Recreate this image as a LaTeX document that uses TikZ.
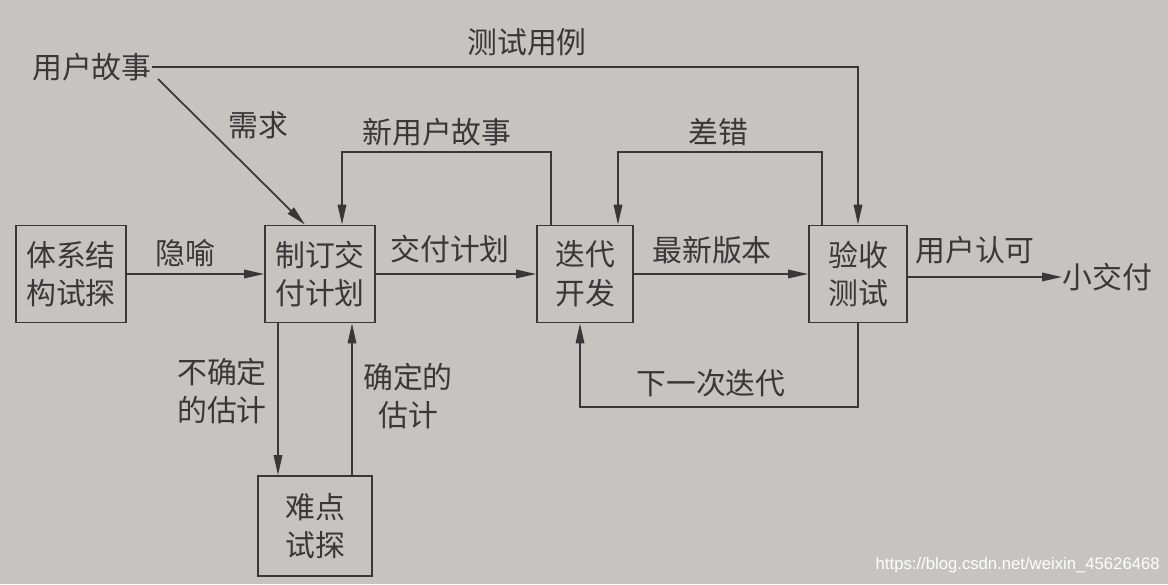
\documentclass[tikz,border=0pt]{standalone}
\usepackage{fontspec}
\setmainfont{Noto Sans CJK SC}
\newfontfamily\wmfont{Liberation Sans}
\usetikzlibrary{arrows.meta,calc}
\definecolor{paper}{HTML}{C6C4C1}
\definecolor{ink}{HTML}{383838}
\begin{document}
\begin{tikzpicture}[x=0.02cm,y=-0.02cm,
  every node/.style={text=ink,font=\fontsize{17pt}{22pt}\selectfont},
  box/.style={draw=ink,line width=1pt,align=center,inner sep=0pt},
  lbl/.style={align=center,inner sep=0pt},
  arr/.style={draw=ink,line width=1pt,-{Triangle[length=4mm,width=1.7mm]}},
  ln/.style={draw=ink,line width=1pt}]
\fill[paper] (0,0) rectangle (1168,584);
\useasboundingbox (0,0) rectangle (1168,584);
% boxes
\node[box,minimum width=2.2cm,minimum height=1.94cm] (a) at (71,274) {体系结\\构试探};
\node[box,minimum width=2.2cm,minimum height=1.94cm] (b) at (320,274) {制订交\\付计划};
\node[box,minimum width=1.92cm,minimum height=1.94cm] (c) at (585,274) {迭代\\开发};
\node[box,minimum width=1.96cm,minimum height=1.94cm] (d) at (858,274) {验收\\测试};
\node[box,minimum width=2.28cm,minimum height=2.0cm] (e) at (315,526) {难点\\试探};
\node[lbl,anchor=east] (us) at (152,67) {用户故事};
\node[lbl,anchor=west] (out) at (1062,277) {小交付};
% connectors
\draw[arr] (us.east) -| (d.north);
\coordinate (rq) at ($(us.east)+(6,12)$);
\draw[arr] (rq) -- ($(b.north)+(-15,0)$);
\draw[arr] ($(c.north)+(-34,0)$) -- ++(0,-73) -| ($(b.north)+(22,0)$);
\draw[arr] ($(d.north)+(-36,0)$) -- ++(0,-73) -| ($(c.north)+(33,0)$);
\draw[arr] (a.east) -- (b.west);
\draw[arr] (b.east) -- (c.west);
\draw[arr] (c.east) -- (d.west);
\draw[arr] (d.east |- out.west) -- (out.west);
\draw[arr] (d.south) -- ++(0,84) -| ($(c.south)+(-5,0)$);
\coordinate (p1) at ($(b.south)+(-42,0)$);
\coordinate (p2) at ($(b.south)+(32,0)$);
\draw[arr] (p1) -- (p1 |- e.north);
\draw[arr] (p2 |- e.north) -- (p2);
% labels
\node[lbl] (l1) at (527,42) {测试用例};
\node[lbl] (l2) at (258,125) {需求};
\node[lbl] (l3) at (437,132) {新用户故事};
\node[lbl] (l4) at (718,132) {差错};
\node[lbl] (l5) at (185,253) {隐喻};
\node[lbl] (l6) at (450,249) {交付计划};
\node[lbl] (l7) at (712,250) {最新版本};
\node[lbl] (l8) at (975,250) {用户认可};
\node[lbl] (l9) at (711,383) {下一次迭代};
\node[lbl] (l10) at (222,391) {不确定\\的估计};
\node[lbl] (l11) at (408,396) {确定的\\估计};
\node[lbl,anchor=east,text=white,font=\wmfont\fontsize{9.5pt}{11pt}\selectfont] (wm) at (1160,565) {https://blog.csdn.net/weixin\_45626468};
\end{tikzpicture}
\end{document}
